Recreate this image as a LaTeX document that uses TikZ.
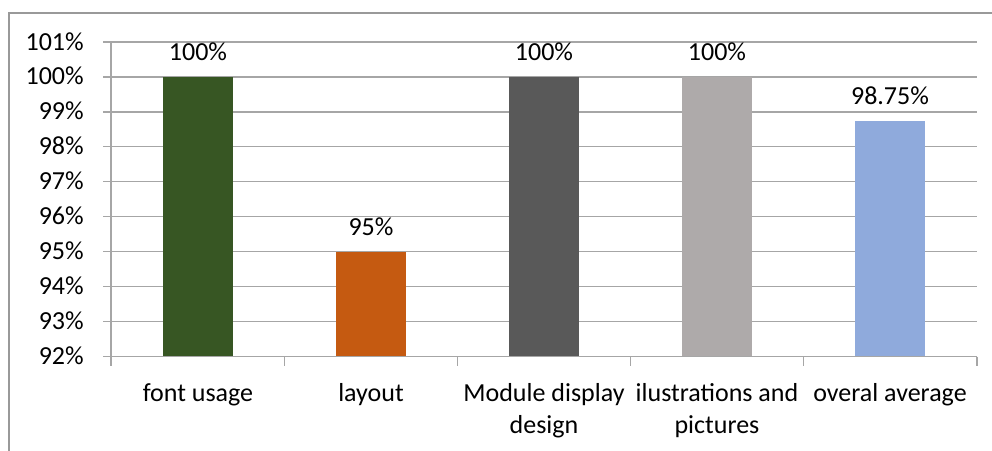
\documentclass[tikz,border=0pt]{standalone}
\usepackage{fontspec}
\setmainfont{Carlito}
\begin{document}
\begin{tikzpicture}[x=0.75pt,y=-0.75pt,
  every node/.style={font=\fontsize{19.5}{24}\selectfont, inner sep=0pt, text=black},
  grid/.style={draw=gray!70, line width=0.9pt},
  frame/.style={draw=gray!80, line width=0.9pt},
  ylab/.style={anchor=base east},
  vlab/.style={anchor=base},
  clab/.style={anchor=base, align=center}]
\useasboundingbox (0,0) rectangle (992,450);
\definecolor{cGreen}{HTML}{375623}
\definecolor{cOrange}{HTML}{C55A11}
\definecolor{cDark}{HTML}{595959}
\definecolor{cLight}{HTML}{AEAAAA}
\definecolor{cBlue}{HTML}{8FAADC}
% outer frame
\coordinate (fbl) at (9,452);
\coordinate (ftl) at (9,13);
\coordinate (ftr) at (994,13);
\draw[frame] (fbl) -- (ftl) -- (ftr);
% gridlines and y labels
\foreach \v [count=\i from 0] in {92,...,101} {
  \pgfmathsetmacro{\yy}{356.5-\i*34.94}
  \coordinate (gl\v) at (103,\yy);
  \coordinate (gr\v) at (977,\yy);
  \draw[grid] (gl\v) -- (gr\v);
  \node[ylab] (yl\v) at (84,\yy+8) {\v\%};
}
% axes
\coordinate (ya) at (111,42);
\coordinate (yb) at (111,365.5);
\draw[grid] (ya) -- (yb);
\foreach \k in {1,...,5} {
  \pgfmathsetmacro{\xx}{111+\k*173.2}
  \coordinate (t\k) at (\xx,356.5);
  \coordinate (tb\k) at (\xx,365.5);
  \draw[grid] (t\k) -- (tb\k);
}
% bars
\fill[cGreen]  (163,356.5) rectangle (233,77.2);
\fill[cOrange] (336,356.5) rectangle (406,251.7);
\fill[cDark]   (509,356.5) rectangle (579,77.2);
\fill[cLight]  (682,356.5) rectangle (752,77.2);
\fill[cBlue]   (855,356.5) rectangle (925,120.7);
\draw[grid] (111,356.5) -- (977,356.5);
% value labels
\node[vlab] (v1) at (198,60) {100\%};
\node[vlab] (v2) at (371,235) {95\%};
\node[vlab] (v3) at (544,60) {100\%};
\node[vlab] (v4) at (717,60) {100\%};
\node[vlab] (v5) at (890,104) {98.75\%};
% category labels
\node[clab] (c1) at (198,401) {font usage};
\node[clab] (c2) at (371,401) {layout};
\node[clab] (c3) at (544,433) {Module display\\design};
\node[clab] (c4) at (717,433) {ilustrations and\\pictures};
\node[clab] (c5) at (890,401) {overal average};
\end{tikzpicture}
\end{document}
